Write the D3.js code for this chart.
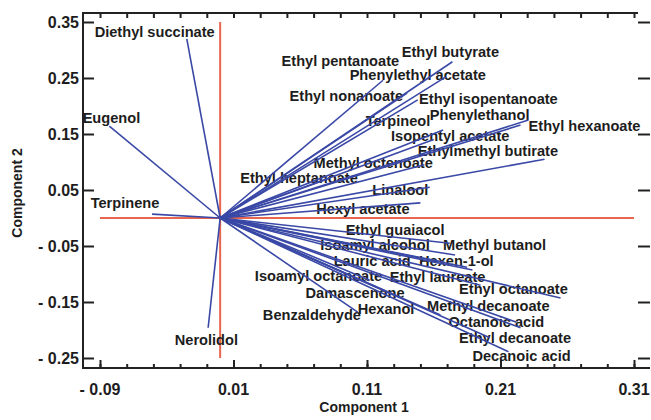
<!DOCTYPE html>
<html>
<head>
<meta charset="utf-8">
<script src="https://cdn.jsdelivr.net/npm/d3@7"></script>
<style>
  body { margin: 0; background: #fff; }
  text { font-family: "Liberation Sans", Arial, sans-serif; font-weight: bold; fill: #1d1d1d; }
</style>
</head>
<body>
<svg id="chart" width="651" height="420"></svg>
<script>
// loadings
const names = ["Diethyl succinate", "Eugenol", "Terpinene", "Nerolidol",
  "Ethyl pentanoate", "Ethyl butyrate", "Phenylethyl acetate", "Ethyl nonanoate",
  "Ethyl isopentanoate", "Terpineol", "Phenylethanol", "Ethyl hexanoate",
  "Isopentyl acetate", "Ethylmethyl butirate", "Methyl octenoate", "Ethyl heptanoate",
  "Linalool", "Hexyl acetate", "Ethyl guaiacol", "Isoamyl alcohol", "Methyl butanol",
  "Lauric acid", "Hexen-1-ol", "Isoamyl octanoate", "Ethyl laureate", "Ethyl octanoate",
  "Damascenone", "Hexanol", "Methyl decanoate", "Benzaldehyde", "Octanoic acid",
  "Ethyl decanoate", "Decanoic acid"]
const comp1 = [-0.025, -0.083, -0.051, -0.009,
  0.122, 0.174, 0.169, 0.140, 0.148, 0.167, 0.225, 0.231, 0.160, 0.243, 0.153, 0.082, 0.157, 0.150,
  0.172, 0.176, 0.189, 0.168, 0.185, 0.112, 0.195, 0.255, 0.131, 0.165, 0.222, 0.103, 0.225, 0.202, 0.216]
const comp2 = [0.320, 0.164, 0.007, -0.196,
  0.246, 0.279, 0.252, 0.223, 0.211, 0.157, 0.166, 0.175, 0.140, 0.105, 0.095, 0.071, 0.055, 0.027,
  -0.045, -0.066, -0.093, -0.079, -0.088, -0.111, -0.120, -0.143, -0.138, -0.173, -0.186, -0.168, -0.196, -0.214, -0.239]

const xTicks = [-0.09, 0.01, 0.11, 0.21, 0.31]
const yTicks = [0.35, 0.25, 0.15, 0.05, -0.05, -0.15, -0.25]

// where each name sits (left end / baseline, in data units)
const labelAt = [[-0.094, 0.323], [-0.103, 0.170], [-0.097, 0.018], [-0.034, -0.227],
  [0.046, 0.271], [0.136, 0.288], [0.097, 0.246], [0.052, 0.209], [0.149, 0.204],
  [0.109, 0.164], [0.157, 0.175], [0.231, 0.155], [0.128, 0.137], [0.148, 0.110],
  [0.070, 0.089], [0.015, 0.063], [0.114, 0.041], [0.072, 0.007],
  [0.094, -0.031], [0.075, -0.058], [0.167, -0.057], [0.085, -0.086], [0.149, -0.086],
  [0.026, -0.113], [0.127, -0.114], [0.179, -0.136], [0.064, -0.143], [0.103, -0.172],
  [0.155, -0.166], [0.032, -0.182], [0.171, -0.194], [0.179, -0.223], [0.189, -0.256]]

const svg = d3.select('#chart')
const frameL = 83, frameT = 13, frameB = 368, frameR = 638

const x = d3.scaleLinear().domain([-0.09, 0.31]).range([100, 634])
const y = d3.scaleLinear().domain([-0.25, 0.35]).range([358, 22])
const fmt = (v) => (v < 0 ? '- ' : '') + Math.abs(v).toFixed(2)
const minorX = d3.range(-0.09, 0.3101, 0.02).map((v) => +v.toFixed(2))

/* ------- frame + ticks ------- */
const frame = svg.append('g').attr('stroke', '#222').attr('stroke-width', 2).attr('fill', 'none')
frame.append('path').attr('d', `M${frameR},${frameT}H${frameL}V${frameB}H650`)

function ticks(axis, tx, ty) {
  const g = svg.append('g').attr('transform', `translate(${tx},${ty})`).call(axis)
  g.select('.domain').remove()
  g.selectAll('.tick line').attr('stroke', '#222').attr('stroke-width', 2)
  g.selectAll('.tick text').remove()
}
ticks(d3.axisTop(x).tickValues(minorX).tickSize(4), 0, frameB)
ticks(d3.axisTop(x).tickValues(xTicks).tickSize(8), 0, frameB)
ticks(d3.axisBottom(x).tickValues(minorX).tickSize(5), 0, frameT)
ticks(d3.axisRight(y).tickValues(yTicks).tickSize(11), frameL, 0)
ticks(d3.axisRight(y).tickValues(yTicks).tickSize(12), frameR, 0)

svg.append('g').selectAll('text').data(xTicks).enter().append('text')
  .attr('x', (d) => x(d)).attr('y', 395)
  .attr('text-anchor', 'middle').style('font-size', '16px')
  .text(fmt)

svg.append('g').selectAll('text').data(yTicks).enter().append('text')
  .attr('x', 79).attr('y', (d) => y(d) + 6)
  .attr('text-anchor', 'end').style('font-size', '16px')
  .text(fmt)

svg.append('text').attr('x', 364).attr('y', 412)
  .attr('text-anchor', 'middle').style('font-size', '14px').text('Component 1')
svg.append('text').attr('transform', 'translate(22,193) rotate(-90)')
  .attr('text-anchor', 'middle').style('font-size', '14px').text('Component 2')

/* ------- zero lines ------- */
const zero = svg.append('g').attr('stroke', '#e8654f').attr('stroke-width', 2)
zero.append('line').attr('x1', x(0)).attr('x2', x(0)).attr('y1', y(0.35)).attr('y2', y(-0.25))
zero.append('line').attr('x1', x(-0.09)).attr('x2', x(0.31)).attr('y1', y(0)).attr('y2', y(0))

/* ------- names ------- */
svg.append('g').selectAll('text').data(names).enter().append('text')
  .attr('x', (d, i) => x(labelAt[i][0]))
  .attr('y', (d, i) => y(labelAt[i][1]))
  .style('font-size', '14.6px')
  .text((d) => d)

/* ------- vectors ------- */
svg.append('g').selectAll('line').data(names).enter().append('line')
  .attr('x1', x(0)).attr('y1', y(0))
  .attr('x2', (d, i) => x(comp1[i]))
  .attr('y2', (d, i) => y(comp2[i]))
  .attr('stroke', '#3a48a6')
  .attr('stroke-width', 1.6)
</script>
</body>
</html>
